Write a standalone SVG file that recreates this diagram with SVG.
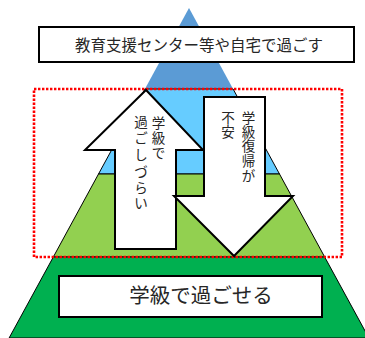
<svg xmlns="http://www.w3.org/2000/svg" width="365" height="338" viewBox="0 0 365 338">
<style>
.t{font-family:"Noto Sans CJK JP","Noto Sans",sans-serif;fill:#262626}
.v{font-size:13.5px;text-anchor:middle}
.box{fill:#fff;stroke:#000;stroke-width:2}
.arr{fill:#fff;stroke:#000;stroke-width:2;stroke-linejoin:miter}
.lay{stroke:#000;stroke-width:1}
</style>
<g id="pyramid">
<polygon points="189,8 233.1,89 144.9,89" fill="#5B9BD5"/>
<polygon class="lay" points="144.9,89 233.1,89 279.5,174 98.5,174" fill="#66CCFF"/>
<polygon class="lay" points="98.5,174 279.5,174 324.7,257 53.3,257" fill="#92D050"/>
<polygon class="lay" points="53.3,257 324.7,257 368.9,338 9.1,338" fill="#00B050"/>
</g>
<g id="top-label">
<rect class="box" x="39" y="27" width="315" height="35"/>
<text class="t" x="199" y="51" font-size="15.5" text-anchor="middle">教育支援センター等や自宅で過ごす</text>
</g>
<g id="bottom-label">
<rect class="box" x="59" y="276" width="263" height="41"/>
<text class="t" x="201" y="303" font-size="20.5" text-anchor="middle">学級で過ごせる</text>
</g>
<g id="focus-area">
<rect x="34" y="89" width="308" height="168" fill="none" stroke="#FF0000" stroke-width="2.6" stroke-dasharray="2.4 1.6"/>
</g>
<g id="connectors">
<g id="up-arrow">
<polygon class="arr" points="146,90 203,150 176,150 176,249 115,249 115,150 85,150"/>
<text class="t v"><tspan x="158.5" y="127.5">学</tspan><tspan x="158.5" y="142.8">級</tspan><tspan x="158.5" y="158">で</tspan></text>
<text class="t v"><tspan x="141" y="126.5">過</tspan><tspan x="141" y="143">ご</tspan><tspan x="141" y="160">し</tspan><tspan x="141" y="177">づ</tspan><tspan x="141" y="192.5">ら</tspan><tspan x="141" y="208">い</tspan></text>
</g>
<g id="down-arrow">
<polygon class="arr" points="204,97 265,97 265,196 293,196 234,256 174,196 204,196"/>
<text class="t v"><tspan x="248.5" y="122.5">学</tspan><tspan x="248.5" y="136.5">級</tspan><tspan x="248.5" y="151.2">復</tspan><tspan x="248.5" y="166">帰</tspan><tspan x="248.5" y="181">が</tspan></text>
<text class="t v"><tspan x="228" y="122.5">不</tspan><tspan x="228" y="137">安</tspan></text>
</g>
</g>
</svg>
